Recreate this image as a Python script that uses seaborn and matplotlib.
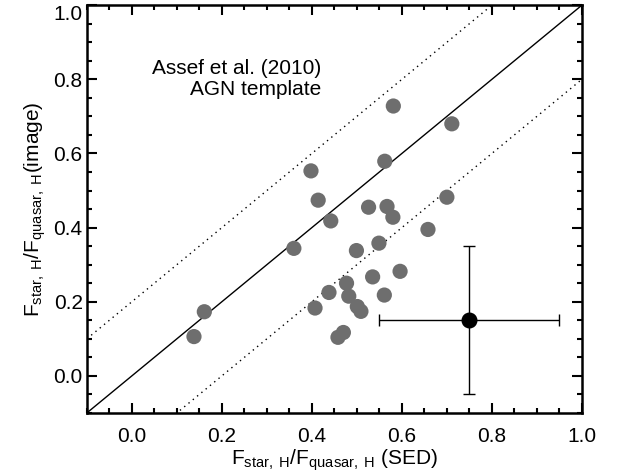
import matplotlib
matplotlib.use("Agg")
import matplotlib.pyplot as plt
import numpy as np
import seaborn as sns
import pandas as pd
from matplotlib.ticker import MultipleLocator

# valores
sed = [0.138, 0.161, 0.360, 0.398, 0.414, 0.442, 0.581, 0.711, 0.562, 0.526,
       0.567, 0.580, 0.700, 0.658, 0.499, 0.549, 0.596, 0.535, 0.477, 0.438,
       0.482, 0.561, 0.407, 0.501, 0.509, 0.470, 0.458]
image = [0.106, 0.173, 0.344, 0.553, 0.474, 0.418, 0.728, 0.680, 0.579, 0.455,
         0.457, 0.428, 0.482, 0.395, 0.338, 0.358, 0.282, 0.267, 0.250, 0.225,
         0.215, 0.218, 0.183, 0.187, 0.174, 0.117, 0.104]

# punto tipico con barras de error
err_x, err_y = 0.75, 0.15
err_dx, err_dy = 0.2, 0.2

line_x = [-0.1, 1.0]
offset = 0.2

sns.set_style("ticks")
plt.rcParams['font.family'] = ['Liberation Sans', 'DejaVu Sans']
plt.rcParams['mathtext.fontset'] = 'custom'
plt.rcParams['mathtext.rm'] = 'Liberation Sans'
plt.rcParams['mathtext.it'] = 'Liberation Sans'
plt.rcParams['text.color'] = 'black'
plt.rcParams['axes.labelcolor'] = 'black'
plt.rcParams['xtick.color'] = 'black'
plt.rcParams['ytick.color'] = 'black'
plt.rcParams['axes.edgecolor'] = 'black'

df = pd.DataFrame({'sed': sed, 'image': image})

fig = plt.figure(figsize=(6.25, 4.73), dpi=100)
ax = fig.add_axes([0.139, 0.127, 0.792, 0.862])

lx = np.array(line_x)
ax.plot(lx, lx, color='black', lw=1.0)
ax.plot(lx, lx + offset, color='black', lw=1.0, ls=(0, (1, 3)))
ax.plot(lx, lx - offset, color='black', lw=1.0, ls=(0, (1, 3)))

sns.scatterplot(data=df, x='sed', y='image', ax=ax, color='#6e6e6e',
                s=120, edgecolor='none', zorder=3)

ax.errorbar(err_x, err_y, xerr=err_dx, yerr=err_dy, fmt='o', color='black',
            ms=10.5, elinewidth=1.0, capsize=4, capthick=1.0, zorder=4)

ax.set_xlim(-0.1, 1.0)
ax.set_ylim(-0.1, 1.0)
ax.xaxis.set_major_locator(MultipleLocator(0.2))
ax.yaxis.set_major_locator(MultipleLocator(0.2))
ax.xaxis.set_minor_locator(MultipleLocator(0.05))
ax.yaxis.set_minor_locator(MultipleLocator(0.05))
ax.tick_params(which='both', direction='in', top=True, right=True,
               width=1.5, labelsize=15)
ax.tick_params(axis='x', which='major', pad=10)
ax.tick_params(axis='y', which='major', pad=3)
ax.tick_params(which='major', length=7)
ax.tick_params(which='minor', length=3.5)
for sp in ax.spines.values():
    sp.set_linewidth(1.8)

ax.set_xlabel(r'$\mathregular{F_{star,\ H}/F_{quasar,\ H}}$ (SED)', fontsize=15, labelpad=1)
ax.set_ylabel(r'$\mathregular{F_{star,\ H}/F_{quasar,\ H}}$(image)', fontsize=15, labelpad=4)

fig.canvas.draw()
ylabs = ax.get_yticklabels()
for lab in ylabs:
    if lab.get_text() == '1.0':
        lab.set_verticalalignment('top')

ax.text(0.42, 0.80, 'Assef et al. (2010)\nAGN template', ha='right', va='center',
        fontsize=15, linespacing=1.15)

plt.savefig('out.png', dpi=100)
